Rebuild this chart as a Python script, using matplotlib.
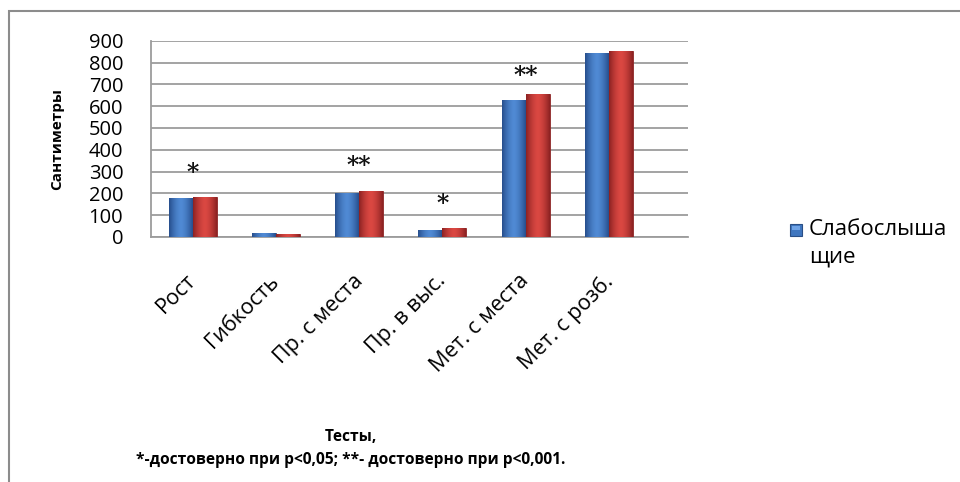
import numpy as np
import matplotlib
matplotlib.use("Agg")
import matplotlib.pyplot as plt
import matplotlib.transforms as mtransforms
from matplotlib.patches import Rectangle

plt.rcParams['font.family'] = ['Open Sans', 'DejaVu Sans']

categories = ["Рост", "Гибкость", "Пр. с места", "Пр. в выс.", "Мет. с места", "Мет. с розб."]
series_names = ["Слабослыша\nщие", "Слышащие"]
hard_of_hearing = [178, 18, 200, 32, 627, 842]
hearing = [183, 14, 210, 42, 656, 853]
star_labels = ["*", "", "**", "*", "**", ""]
star_levels = [292, 0, 326, 150, 738, 0]
yticks = [0, 100, 200, 300, 400, 500, 600, 700, 800, 900]

W, H = 960, 482
fig = plt.figure(figsize=(W/100, H/100), dpi=100)
ax = fig.add_axes([151/W, 1-237/H, (688-151)/W, (237-40.7)/H])

x = np.arange(len(categories))
w = 0.288

BLUE_EDGE, BLUE_MID = (38, 78, 140), (80, 138, 212)
RED_EDGE, RED_MID = (140, 34, 34), (218, 72, 66)

def grad_img(edge, center):
    edge = np.array(edge) / 255.0
    center = np.array(center) / 255.0
    t = np.linspace(-1, 1, 64)
    f = 1 - np.abs(t) ** 1.6
    return (edge[None, :] * (1 - f[:, None]) + center[None, :] * f[:, None])[None, :, :]

def grad_bars(bars, edge, center):
    img = grad_img(edge, center)
    for b in bars:
        bx, by = b.get_x(), b.get_y()
        bw, bh = b.get_width(), b.get_height()
        im = ax.imshow(img, extent=[bx, bx + bw, by, by + bh], aspect='auto',
                       zorder=3, interpolation='bilinear')
        im.set_clip_path(b)

b1 = ax.bar(x - w/2, hard_of_hearing, w, color='#3f76bf', edgecolor='#2a4f86',
            linewidth=0.6, zorder=3, label=series_names[0])
b2 = ax.bar(x + w/2, hearing, w, color='#c94040', edgecolor='#8a2626',
            linewidth=0.6, zorder=3, label=series_names[1])
grad_bars(b1, BLUE_EDGE, BLUE_MID)
grad_bars(b2, RED_EDGE, RED_MID)

for xi, s, lv in zip(x, star_labels, star_levels):
    if s:
        ax.text(xi, lv, s, ha='center', va='center', fontsize=17,
                family='DejaVu Serif', fontweight='bold', color='#111111', zorder=5)

ax.set_xlim(-0.5, 5.95)
ax.set_ylim(0, 900)
ax.set_yticks(yticks)
ax.set_yticklabels([str(v) for v in yticks], fontsize=14.5)
ax.tick_params(axis='y', length=0, pad=20)
ax.tick_params(axis='x', length=0, pad=24)
ax.set_xticks(x)
ax.set_xticklabels(categories, fontsize=15.5, rotation=45, ha='right',
                   rotation_mode='anchor')
shift = mtransforms.ScaledTranslation(-7/100, 0, fig.dpi_scale_trans)
for lab in ax.get_xticklabels():
    lab.set_transform(lab.get_transform() + shift)
ax.yaxis.grid(True, color='#9c9c9c', linewidth=1.3, zorder=0)
ax.set_axisbelow(True)
for s in ['top', 'right']:
    ax.spines[s].set_visible(False)
for s in ['left', 'bottom']:
    ax.spines[s].set_color('#9c9c9c')
    ax.spines[s].set_linewidth(1.3)

fig.text(57/W, 1-139/H, "Сантиметры", rotation=90, ha='center', va='center',
         fontsize=11, fontweight='bold')
fig.text(351/W, 1-437/H, "Тесты,", ha='center', va='center',
         fontsize=11.2, fontweight='bold')
fig.text(351/W, 1-460/H, "*-достоверно при p<0,05; **- достоверно при p<0,001.",
         ha='center', va='center', fontsize=11.2, fontweight='bold')

# outer chart-area frame
fig.patches.append(Rectangle((8.5/W, -0.1), 1.2, 1.1 - 11/H, transform=fig.transFigure,
                             fill=False, edgecolor='#8c8c8c', linewidth=1.5))

# legend (only the first entry is visible, as in the reference)
lx, ly, ls = 790, 224, 12
fig.patches.append(Rectangle((lx/W, 1-(ly+ls)/H), ls/W, ls/H, transform=fig.transFigure,
                             facecolor='#3f76bf', edgecolor='#2a4f86', linewidth=0.8))
fig.patches.append(Rectangle(((lx+2)/W, 1-(ly+6)/H), (ls-4)/W, 4/H,
                             transform=fig.transFigure, facecolor='#6fa3e6',
                             edgecolor='none'))
fig.text(809/W, 1-219/H, series_names[0], ha='left', va='top',
         fontsize=16, linespacing=1.42)

fig.savefig("out.png", dpi=100)
